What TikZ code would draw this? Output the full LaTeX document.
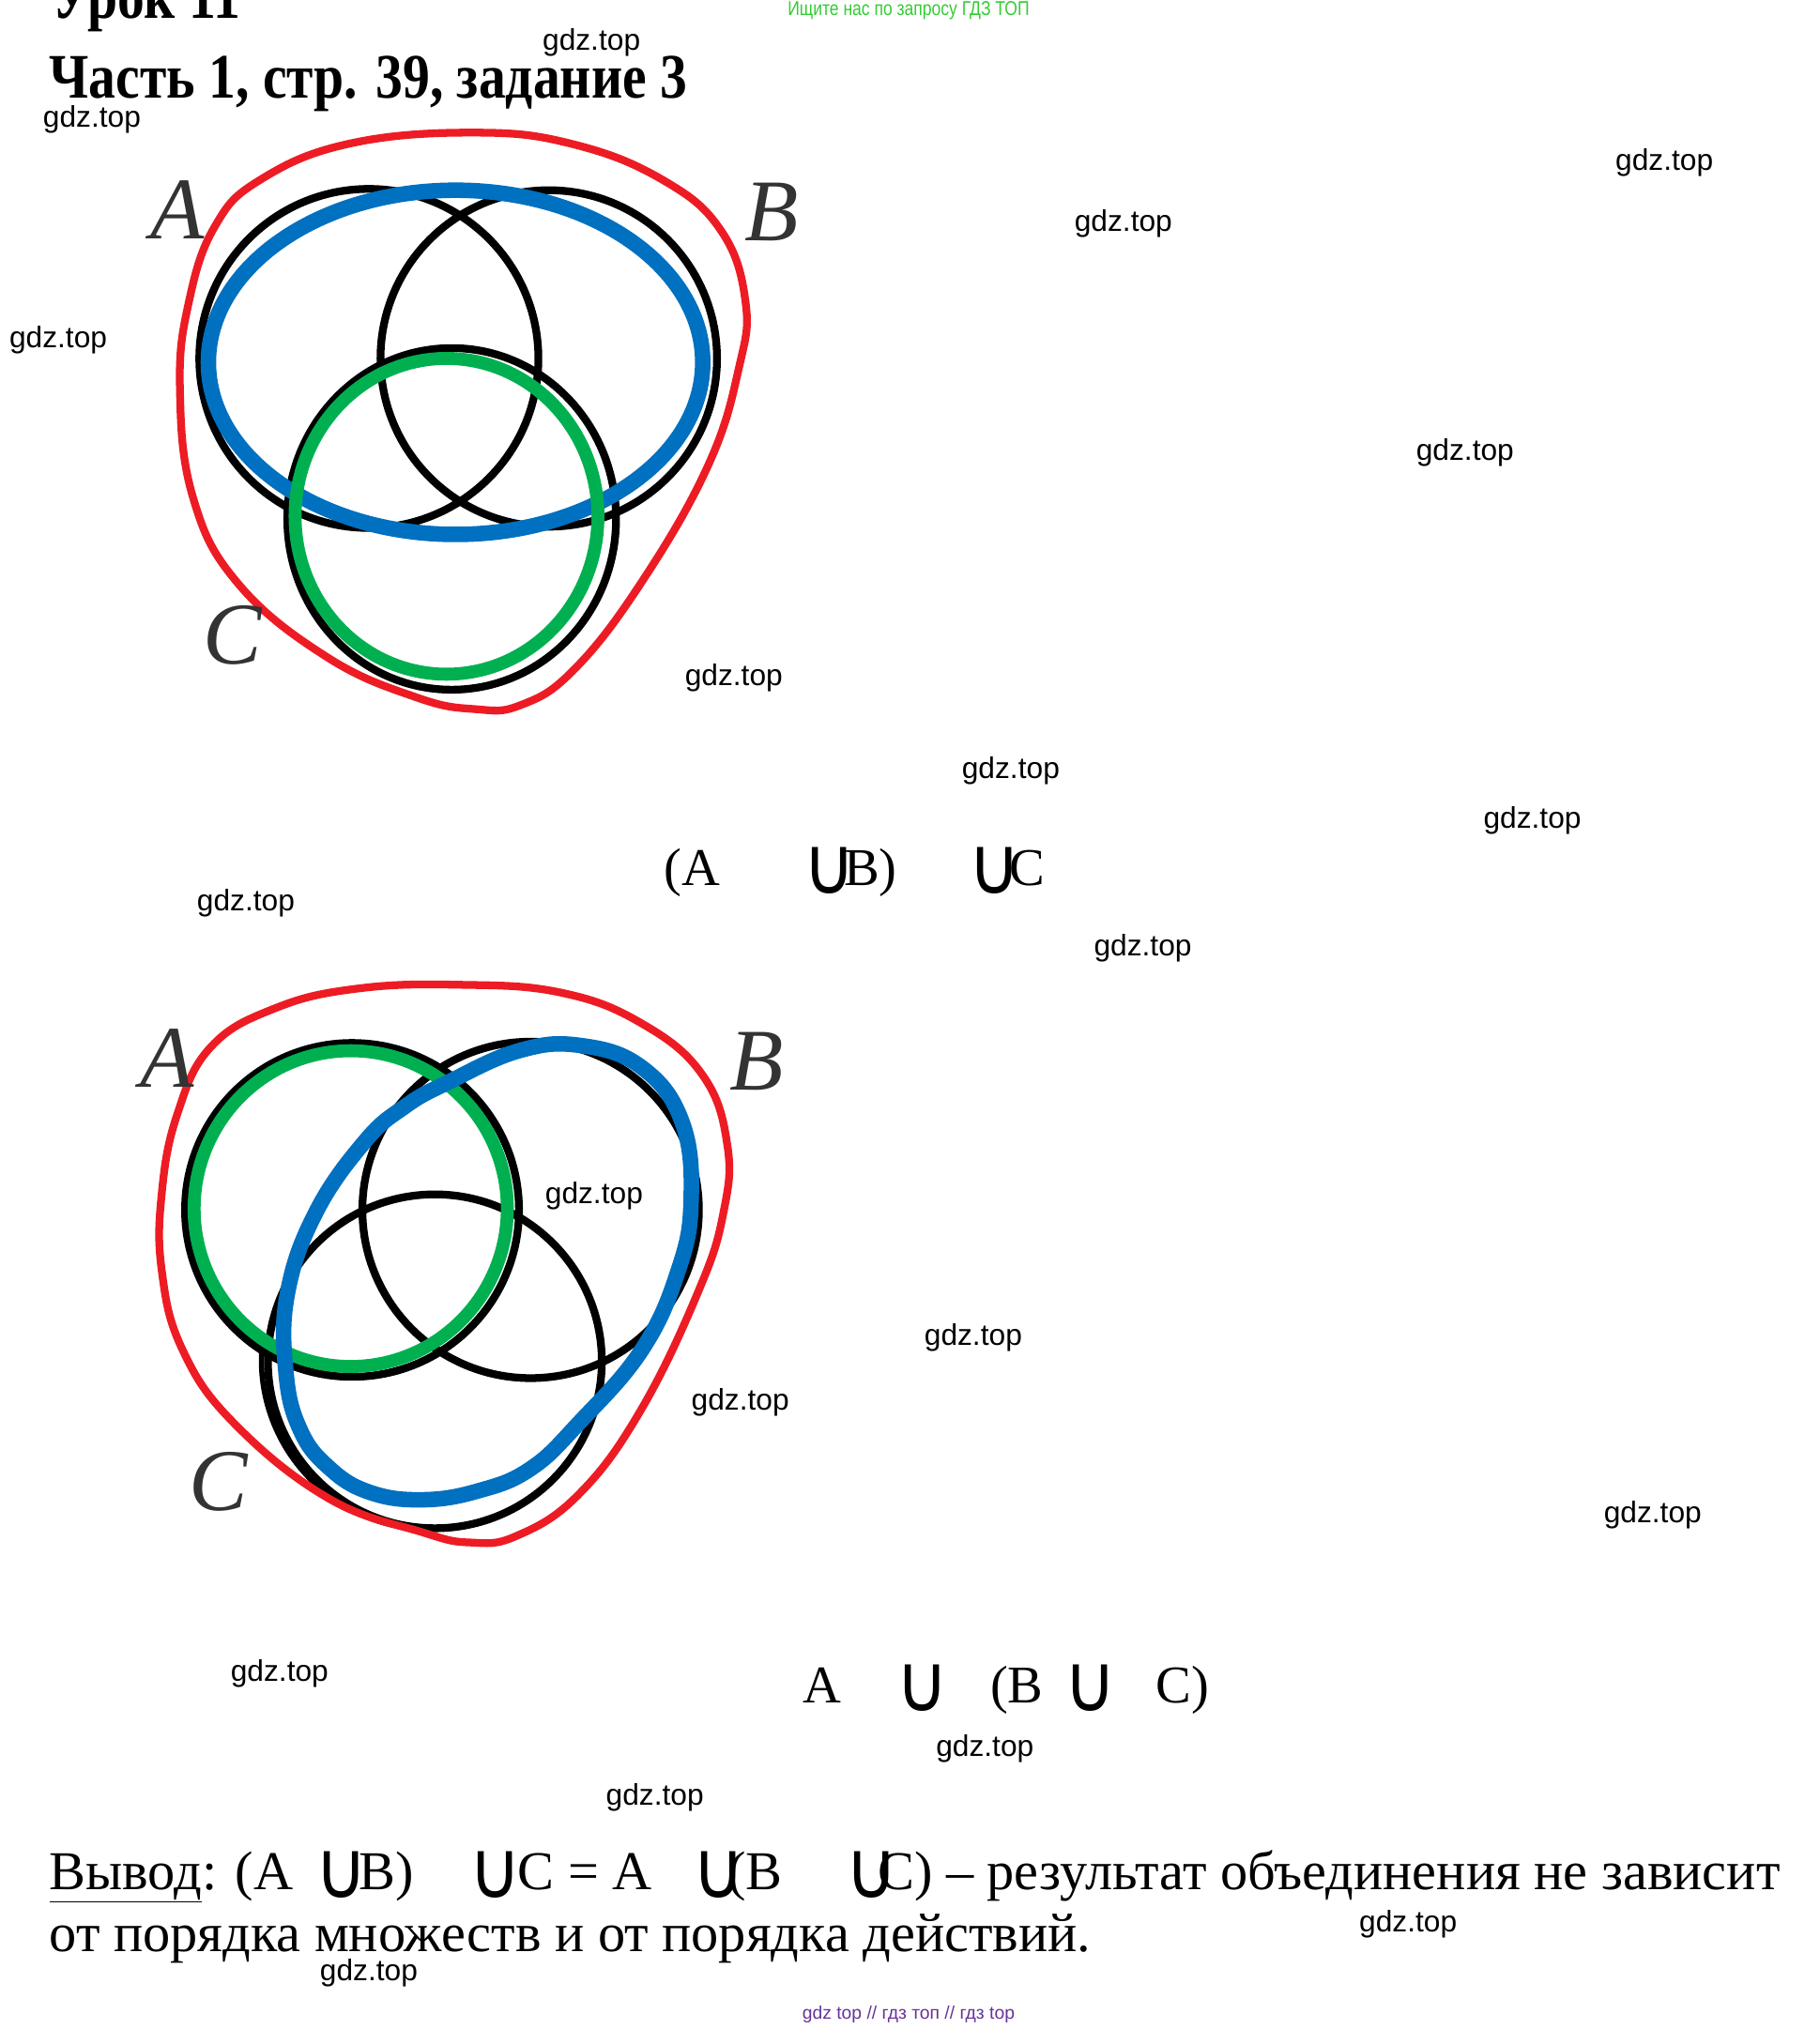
\documentclass[tikz,border=0pt]{standalone}
\usepackage{fontspec}
\setmainfont{Liberation Serif}
\newfontfamily\wmfont{Liberation Sans}
\newfontfamily\narrowfont{Liberation Sans}[FakeStretch=0.82]
\newfontfamily\symfont{DejaVu Sans}
\definecolor{vred}{RGB}{237,28,36}
\definecolor{vblue}{RGB}{0,112,192}
\definecolor{vgreen}{RGB}{0,176,80}
\definecolor{hgreen}{RGB}{51,204,51}
\definecolor{fpurple}{RGB}{102,51,153}
\newcommand{\uni}{\scalebox{0.9}[1]{\symfont\fontsize{62}{62}\selectfont ∪}}
\newcommand{\headtxt}[1]{\scalebox{0.853}[1]{\bfseries\fontsize{49}{49}\selectfont #1}}
\begin{document}
\begin{tikzpicture}[x=1pt,y=-1pt,
  wmk/.style={font=\wmfont\fontsize{23}{23}\selectfont, inner sep=0pt},
  lbl/.style={font=\itshape\fontsize{68}{68}\selectfont, text=black!80, inner sep=0pt},
  txt/.style={font=\fontsize{42.3}{42.3}\selectfont, inner sep=0pt, anchor=base west},
  ftxt/.style={font=\fontsize{41}{41}\selectfont, inner sep=0pt, anchor=base west},
  unionsym/.style={inner sep=0pt, anchor=south west},
  blk/.style={draw=black, line width=6pt},
  blkthin/.style={draw=black, line width=4pt},
  bluel/.style={draw=vblue, line width=12pt},
  greenl/.style={draw=vgreen, line width=10pt},
  redl/.style={draw=vred, line width=6pt}]
\useasboundingbox[fill=white] (0,0) rectangle (1406,1568);

% header
\node[inner sep=0pt, anchor=base west] (lesson) at (40,14) {\headtxt{Урок 11}};
\node[inner sep=0pt, anchor=base west] (title) at (38,76) {\headtxt{Часть 1, стр. 39, задание 3}};
\node[font=\narrowfont\fontsize{15.5}{15.5}\selectfont, text=hgreen, inner sep=0pt] (hdr) at (702,8) {Ищите нас по запросу ГДЗ ТОП};

% diagram 1
\draw[blk] (285,277) circle[radius=131];
\draw[blk] (424,277) circle[radius=130];
\draw[blk] (349,401) ellipse[x radius=127, y radius=132];
\draw[bluel] (352,280) ellipse[x radius=191, y radius=133];
\draw[greenl] (345,399) ellipse[x radius=117, y radius=122];
\draw[redl] plot[smooth cycle, tension=0.7] coordinates {(367,102.5) (443,111.5) (512,139) (557,178) (576,233) (571,284) (547,360) (495,451) (443,518) (402,545) (367,548) (322,539) (253,508) (184,451) (149,384) (139,299) (146,233) (166,175) (201,139) (270,111)};
\node[lbl] (a1) at (137,162) {A};
\node[lbl] (b1) at (596,164) {B};
\node[lbl] (c1) at (180,491) {C};

% formula 1
\node[ftxt] (f1a) at (513,684) {(A};
\node[unionsym] (f1u1) at (620,691) {\uni};
\node[ftxt] (f1b) at (652,684) {B)};
\node[unionsym] (f1u2) at (748,691) {\uni};
\node[ftxt] (f1c) at (780,684) {C};

% diagram 2
\draw[blk] (272,935) circle[radius=129];
\draw[blk] (410,935) circle[radius=130];
\draw[blk] (336,1052) circle[radius=129];
\draw[blkthin] (333,1051) ++(95:131) arc[start angle=95, end angle=185, radius=131];
\draw[greenl] (271,934) ellipse[x radius=121, y radius=122];
\draw[bluel] plot[smooth cycle, tension=0.7] coordinates {(345,837) (401,812) (449,808) (496,825) (527,867) (534,928) (524,982) (496,1043) (447,1100) (410,1135) (370,1152) (326,1159) (285,1153) (254,1134) (232,1105) (221,1061) (222,1000) (244,937) (282,882) (313,855)};
\draw[redl] plot[smooth cycle, tension=0.7] coordinates {(354,761) (433,767) (496,791) (543,831) (562,885) (559,937) (540,997) (495,1090) (447,1155) (399,1187) (363,1192) (326,1184) (254,1158) (181,1100) (141,1043) (125,982) (125,922) (137,861) (163,809) (213,779) (276,764)};
\node[lbl] (a2) at (129,818) {A};
\node[lbl] (b2) at (585,820) {B};
\node[lbl] (c2) at (169,1145) {C};

% formula 2
\node[ftxt] (f2a) at (620,1316) {A};
\node[unionsym] (f2u1) at (692,1323) {\uni};
\node[ftxt] (f2b) at (765,1316) {(B};
\node[unionsym] (f2u2) at (822,1323) {\uni};
\node[ftxt] (f2c) at (893,1316) {C)};

% conclusion
\node[txt] (k1) at (38,1460) {\underline{Вывод}: (A};
\node[unionsym] (k2) at (243,1467) {\uni};
\node[txt] (k3) at (277,1460) {B)};
\node[unionsym] (k4) at (362,1467) {\uni};
\node[txt] (k5) at (400,1460) {C = A};
\node[unionsym] (k6) at (535,1467) {\uni};
\node[txt] (k7) at (562,1460) {(B};
\node[unionsym] (k8) at (653,1467) {\uni};
\node[txt] (k9) at (678,1460) {C) – результат объединения не зависит};
\node[txt] (k10) at (38,1508) {от порядка множеств и от порядка действий.};

% footer
\node[font=\wmfont\fontsize{14}{14}\selectfont, text=fpurple, inner sep=0pt] (ftr) at (702,1557) {gdz top // гдз топ // гдз top};

% watermarks
\node[wmk] (w1) at (457,33) {gdz.top};
\node[wmk] (w2) at (71,92) {gdz.top};
\node[wmk] (w3) at (1286,126) {gdz.top};
\node[wmk] (w4) at (868,173) {gdz.top};
\node[wmk] (w5) at (45,263) {gdz.top};
\node[wmk] (w6) at (1132,350) {gdz.top};
\node[wmk] (w7) at (567,524) {gdz.top};
\node[wmk] (w8) at (781,596) {gdz.top};
\node[wmk] (w9) at (1184,634) {gdz.top};
\node[wmk] (w10) at (190,698) {gdz.top};
\node[wmk] (w11) at (883,733) {gdz.top};
\node[wmk] (w12) at (459,924) {gdz.top};
\node[wmk] (w13) at (752,1034) {gdz.top};
\node[wmk] (w14) at (572,1084) {gdz.top};
\node[wmk] (w15) at (1277,1171) {gdz.top};
\node[wmk] (w16) at (216,1293) {gdz.top};
\node[wmk] (w17) at (761,1351) {gdz.top};
\node[wmk] (w18) at (506,1389) {gdz.top};
\node[wmk] (w19) at (1088,1487) {gdz.top};
\node[wmk] (w20) at (285,1525) {gdz.top};
\end{tikzpicture}
\end{document}
